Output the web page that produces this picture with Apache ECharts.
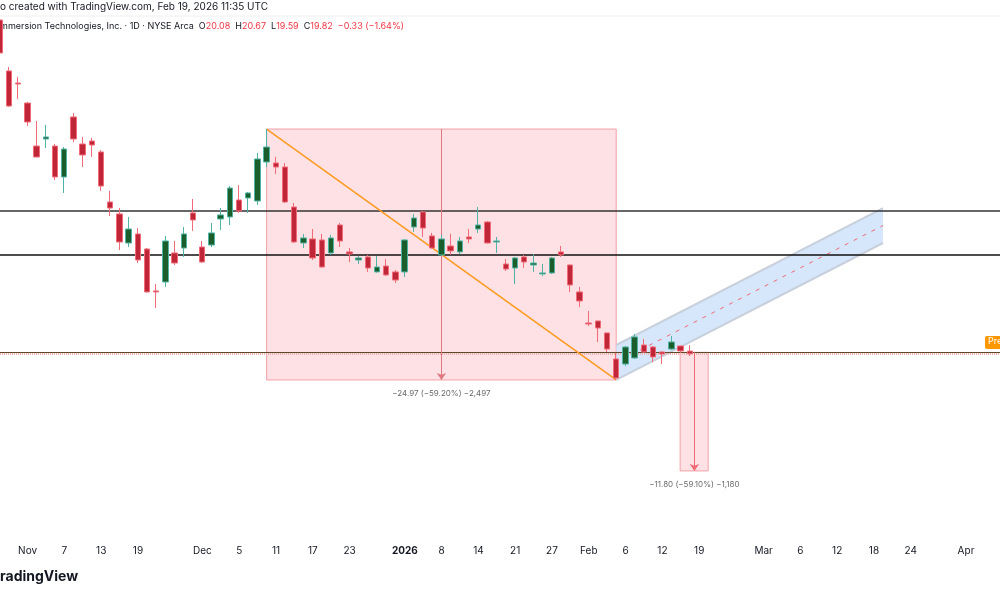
<!DOCTYPE html>
<html><head><meta charset="utf-8">
<script src="https://cdn.jsdelivr.net/npm/echarts@6/dist/echarts.min.js"></script>
<style>html,body{margin:0;padding:0;background:#fff}#c{width:1000px;height:600px}</style>
</head><body><div id="c"></div>
<script>
const openP  = [53.03,47.96,46.76,44.77,40.49,41.19,40.49,37.41,43.38,40.69,40.99,39.90,34.92,33.73,30.84,31.74,30.24,26.07,26.96,29.85,30.34,33.83,30.44,30.64,33.23,33.43,35.12,35.32,35.02,38.90,38.80,38.40,34.42,30.84,31.24,31.14,29.85,32.63,29.95,29.15,29.45,27.96,28.55,27.96,27.96,32.43,33.93,31.54,29.65,30.54,29.95,31.44,32.23,32.93,30.94,28.75,28.35,29.45,28.65,27.76,27.86,29.95,28.65,25.97,22.88,23.08,21.89,19.30,18.80,19.40,20.69,20.49,20.00,20.29,20.59,20.08];
const closeP = [49.75,44.47,46.66,42.88,39.40,41.39,37.41,40.19,41.19,39.60,40.59,36.51,34.32,30.94,32.23,29.15,25.97,25.97,31.04,28.85,31.74,33.13,28.95,31.84,33.63,36.31,34.03,35.82,39.20,40.39,38.40,34.92,30.94,31.34,29.35,28.45,31.34,31.04,29.75,29.35,28.35,28.45,27.66,27.16,31.14,33.33,32.33,30.34,31.24,30.05,31.04,31.24,32.63,30.84,31.04,28.25,29.35,28.95,28.85,27.86,29.35,29.65,26.66,25.07,22.78,22.38,20.29,17.41,20.49,21.49,20.00,19.50,19.80,20.99,20.10,19.82];
const lowP   = [48.85,44.40,45.17,42.48,39.35,40.29,37.11,35.82,40.89,38.40,39.40,36.02,33.53,30.14,30.44,28.85,25.90,24.37,26.46,28.65,29.45,32.04,28.85,30.44,32.13,32.63,33.83,33.83,34.62,38.40,37.71,34.82,30.84,30.34,29.15,28.40,29.65,30.44,28.95,28.75,27.96,27.90,27.56,26.86,27.46,31.94,31.44,30.30,29.55,29.65,29.75,30.84,31.84,30.80,29.85,28.06,26.76,28.35,27.96,27.56,27.76,29.45,25.97,24.47,22.58,20.99,20.00,17.21,18.60,19.30,19.90,19.00,18.80,20.19,19.90,19.59];
const highP  = [53.23,48.35,47.36,44.87,42.98,42.58,40.69,40.39,43.78,41.39,41.29,40.09,36.02,34.32,33.43,32.33,30.34,26.76,31.54,31.04,32.43,35.22,31.04,32.83,34.32,36.51,36.61,35.92,39.80,42.18,39.40,38.80,34.82,31.74,32.23,31.74,31.64,32.83,30.34,29.55,29.65,29.55,29.25,28.15,31.24,33.73,34.03,31.84,31.64,31.74,31.44,32.23,34.42,33.03,31.44,29.25,29.45,29.65,29.75,28.75,29.45,30.54,28.70,26.46,24.08,23.10,21.92,19.90,20.59,21.79,21.29,20.59,20.02,21.59,20.61,20.67];
const tickLabels = {3:'Nov',7:'7',11:'13',15:'19',22:'Dec',26:'5',30:'11',34:'17',38:'23',44:'2026',48:'8',52:'14',56:'21',60:'27',64:'Feb',68:'6',72:'12',76:'19',83:'Mar',87:'6',91:'12',95:'18',99:'24',105:'Apr'};
const levels = [34.02, 29.64];
const lastPrice = 19.96;
const measure1 = {x0:29, x1:67, top:42.18, bottom:17.21, label:'\u221224.97 (\u221259.20%) \u22122,497'};
const measure2 = {x0:74, x1:77, top:19.96, bottom:8.16, label:'\u221211.80 (\u221259.10%) \u22121,180'};
const channelX = [67, 96];
const channelLow = [17.21, 30.84];
const channelWidth = 3.48;

const candles = openP.map((o,i)=>[i,o,closeP[i],lowP[i],highP[i]]);
const mid1 = (measure1.x0+measure1.x1)/2;
const mid2 = (measure2.x0+measure2.x1)/2;
const XMIN = 0.02, XMAX = 0.02 + 1000/9.2;
const chart = echarts.init(document.getElementById('c'));
chart.setOption({
  animation:false,
  grid:{left:0,right:0,top:0,bottom:70},
  xAxis:{type:'value',min:XMIN,max:XMAX,interval:1,splitLine:{show:false},axisLine:{show:false},axisTick:{show:false},
    axisLabel:{margin:16,color:'#131722',fontSize:10,fontFamily:'Inter, sans-serif',showMinLabel:false,showMaxLabel:false,
      formatter:v=>{const t=tickLabels[Math.round(v)];if(!t)return '';return t==='2026'?'{b|2026}':t;},
      rich:{b:{fontWeight:'bold',fontSize:10,color:'#131722'}}}},
  yAxis:{type:'value',min:2.28,max:55.02,show:false,splitLine:{show:false}},
  series:[
    {type:'line',data:[[measure1.x0,0]],symbol:'none',lineStyle:{opacity:0},
     markArea:{silent:true,itemStyle:{color:'rgba(252,205,210,0.6)',borderColor:'#f4a0a8',borderWidth:1},
       data:[[{coord:[measure1.x0,measure1.top]},{coord:[measure1.x1,measure1.bottom]}],
             [{coord:[measure2.x0-0.05,measure2.top]},{coord:[measure2.x1,measure2.bottom]}]]},
     markLine:{silent:true,symbol:['none','none'],label:{show:false},
       data:[
         {yAxis:levels[0],lineStyle:{color:'#333',width:1.5,type:'solid'}},
         {yAxis:levels[1],lineStyle:{color:'#111',width:1.5,type:'solid'}},
         {yAxis:lastPrice,lineStyle:{color:'#5a4a2a',width:1,type:'solid'}},
         {yAxis:lastPrice-0.15,lineStyle:{color:'#eeb0b0',width:2,type:[1,1]}}
       ]}},
    {type:'custom',z:2,data:[[channelX[0],channelLow[0],channelX[1],channelLow[1]]],
     renderItem:(params,api)=>{
       const a=api.coord([api.value(0),api.value(1)]), b=api.coord([api.value(2),api.value(3)]);
       const c=api.coord([api.value(2),api.value(3)+channelWidth]), d=api.coord([api.value(0),api.value(1)+channelWidth]);
       return {type:'group',children:[
         {type:'polygon',shape:{points:[a,b,c,d]},style:{fill:'rgba(200,222,250,0.75)'}},
         {type:'line',shape:{x1:a[0],y1:a[1],x2:b[0],y2:b[1]},style:{stroke:'#c8d0dc',lineWidth:2}},
         {type:'line',shape:{x1:d[0],y1:d[1],x2:c[0],y2:c[1]},style:{stroke:'#c8d0dc',lineWidth:2}},
         {type:'line',shape:{x1:(a[0]+d[0])/2+15,y1:(a[1]+d[1])/2-7.9,x2:(b[0]+c[0])/2,y2:(b[1]+c[1])/2},style:{stroke:'#f06a74',lineWidth:1,lineDash:[4,6]}}
       ]};
     }},
    {type:'candlestick',data:candles,encode:{x:0,y:[1,2,3,4]},barWidth:6,z:5,
     itemStyle:{color:'#1b5e2b',color0:'#bf2637',borderColor:'#4fb3a6',borderColor0:'#f26b78',borderWidth:1},
     markLine:{silent:true,symbol:['none','none'],label:{show:false},
       data:[
         [{coord:[measure1.x0,measure1.top],lineStyle:{color:'#ff9a1f',width:1.5,type:'solid'}},{coord:[measure1.x1,measure1.bottom]}],
         [{coord:[mid1,measure1.top],symbol:'none',lineStyle:{color:'#e07880',width:1,type:'solid'}},{coord:[mid1,measure1.bottom],symbol:'arrow',symbolSize:7}],
         [{coord:[mid2,measure2.top],symbol:'none',lineStyle:{color:'#f06a74',width:1,type:'solid'}},{coord:[mid2,measure2.bottom],symbol:'arrow',symbolSize:7}]
       ]}},
    {type:'scatter',symbolSize:0,data:[[mid1,measure1.bottom],[mid2,measure2.bottom]],z:6,
     label:{show:true,position:'bottom',distance:10,color:'#444',fontSize:8,fontFamily:'Inter, sans-serif',
       formatter:p=>p.dataIndex===0?measure1.label:measure2.label}}
  ],
  graphic:[
    {type:'text',left:0,top:2,style:{text:'o created with TradingView.com, Feb 19, 2026 11:35 UTC',fontSize:10,fill:'#131722',fontFamily:'Inter, sans-serif'}},
    {type:'text',left:0,top:22,style:{text:'{n|mmersion Technologies, Inc. · 1D · NYSE Arca  }{k|O}{v|20.08  }{k|H}{v|20.67  }{k|L}{v|19.59  }{k|C}{v|19.82  −0.33 (−1.64%)}',
      rich:{n:{fontSize:9,fill:'#131722',fontFamily:'Inter, sans-serif'},k:{fontSize:9,fill:'#131722',fontFamily:'Inter, sans-serif'},v:{fontSize:9,fill:'#f23645',fontFamily:'Inter, sans-serif'}}}},
    {type:'line',shape:{x1:0,y1:16,x2:1000,y2:16},style:{stroke:'#eee',lineWidth:1}},
    {type:'rect',shape:{x:985,y:336,width:20,height:13,r:2},style:{fill:'#ff9800'}},
    {type:'text',left:988,top:337,style:{text:'Pre',fontSize:9,fill:'#fff',fontFamily:'Inter, sans-serif'}},
    {type:'text',left:0,top:570,style:{text:'radingView',fontSize:14,fontWeight:'bold',fill:'#131722',fontFamily:'Inter, sans-serif'}}
  ]
});
</script></body></html>
